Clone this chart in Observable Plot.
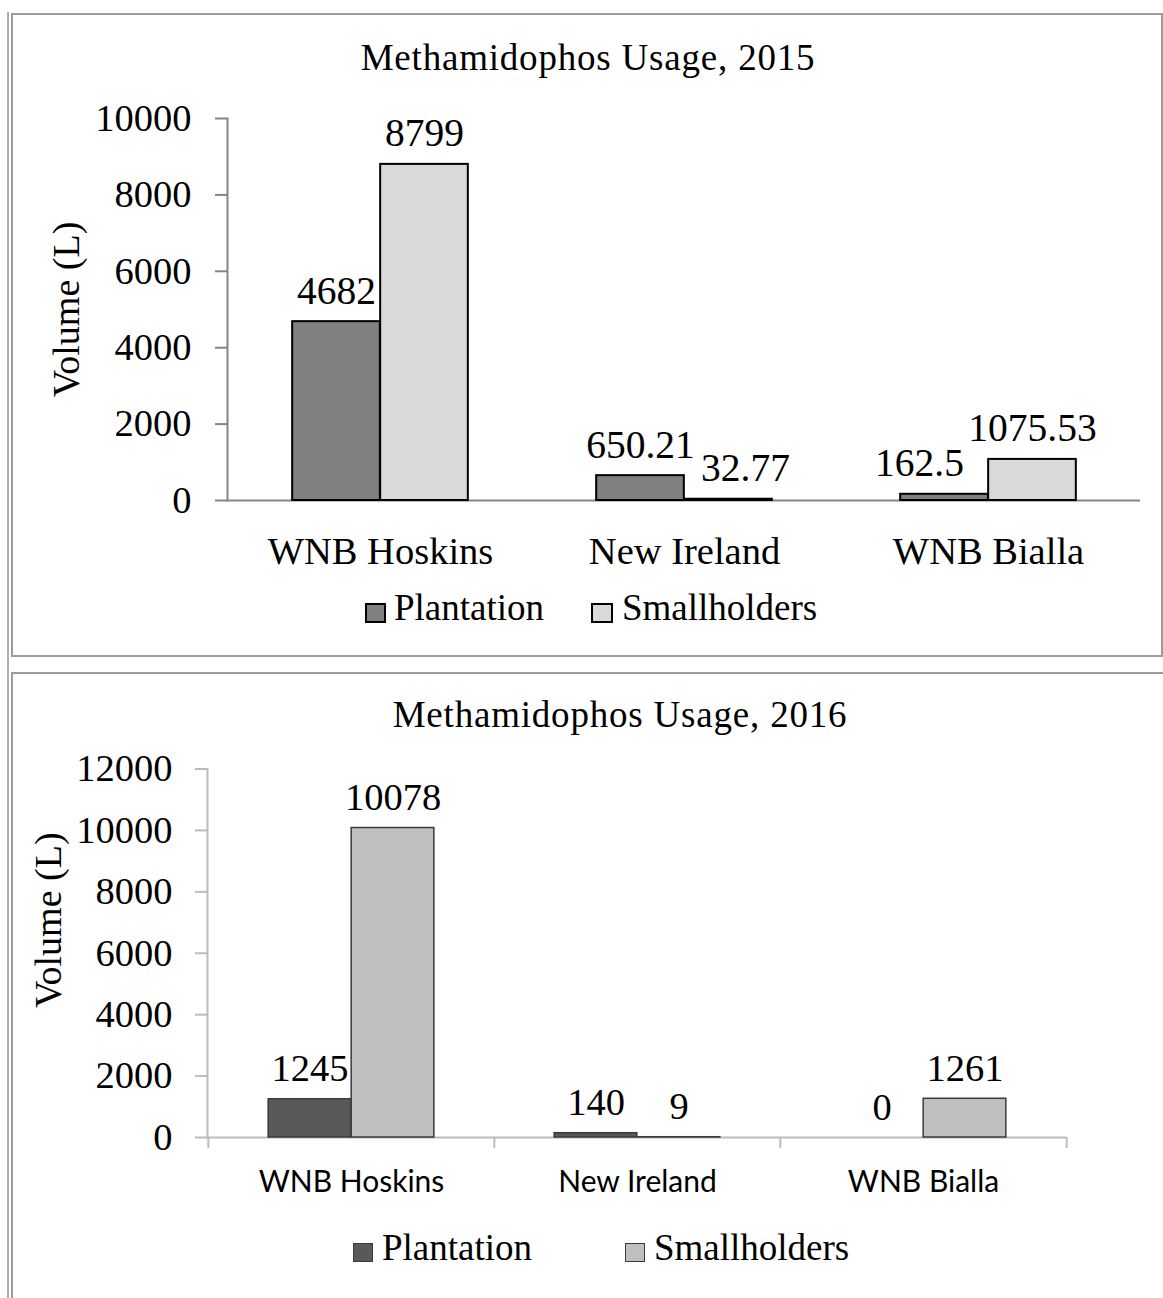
<!DOCTYPE html>
<html><head><meta charset="utf-8">
<script src="https://cdn.jsdelivr.net/npm/d3@7"></script>
<script src="https://cdn.jsdelivr.net/npm/@observablehq/plot@0.6"></script>
<style>
body{margin:0;background:#fff;}
#page{position:relative;width:1163px;height:1298px;overflow:hidden;background:#fff;}
.abs{position:absolute;}
.serif{font-family:"Liberation Serif","Times New Roman",serif;color:#000;white-space:nowrap;}
.panel{position:absolute;box-sizing:border-box;border:2px solid #9c9c9c;}
.sw{position:absolute;box-sizing:border-box;}
svg{position:absolute;left:0;}
</style></head><body><div id="page"></div>
<script>
// ---- data ----
const regions = ["WNB Hoskins", "New Ireland", "WNB Bialla"];
const series = ["Plantation", "Smallholders"];
const plantation2015 = [4682, 650.21, 162.5];
const smallholders2015 = [8799, 32.77, 1075.53];
const plantation2016 = [1245, 140, 0];
const smallholders2016 = [10078, 9, 1261];
const yTicks2015 = [0, 2000, 4000, 6000, 8000, 10000];
const yTicks2016 = [0, 2000, 4000, 6000, 8000, 10000, 12000];
const titles = ["Methamidophos Usage, 2015", "Methamidophos Usage, 2016"];
const yLabel = "Volume (L)";

const SERIF = "Liberation Serif, Times New Roman, serif";
const W = 1163;
const page = document.getElementById("page");

function add(html) { page.insertAdjacentHTML("beforeend", html); }

// panel frames
add(`<div class="abs" style="left:7px;top:12px;width:2px;height:1300px;background:#b0b0b0"></div>`);
add(`<div class="panel" style="left:11px;top:13px;width:1152px;height:644px"></div>`);
add(`<div class="panel" style="left:11px;top:672px;width:1160px;height:700px"></div>`);

function rows(p, s) {
  return regions.flatMap((r, i) => [
    {region: r, series: series[0], value: p[i]},
    {region: r, series: series[1], value: s[i]}
  ]);
}

function chart(cfg) {
  const data = rows(cfg.p, cfg.s);
  const bw = (W - cfg.ml - cfg.mr) / regions.length;
  const half = bw / 2;
  const P = data.filter(d => d.series === series[0]);
  const S = data.filter(d => d.series === series[1]);
  const nudge = cfg.nudge || {};
  const key = d => d.region + "|" + d.series;
  const labelOpts = {x: "region", y: "value", text: d => String(d.value), dy: -18, lineAnchor: "bottom", fontSize: cfg.lfs, fontFamily: SERIF, fill: "#000"};
  const marks = [
    Plot.frame({anchor: "left", stroke: cfg.axis, strokeWidth: 2}),
    Plot.ruleY([0], {stroke: cfg.axis, strokeWidth: 2}),
    Plot.axisY(cfg.ticks, {tickSize: 12, tickPadding: cfg.tp, fontSize: cfg.tfs, fontFamily: SERIF, stroke: cfg.axis, strokeWidth: 2, fill: "#000", label: null, tickFormat: d => String(d)}),
    Plot.barY(P, {x: "region", y: "value", fill: cfg.cP, stroke: cfg.edge, strokeWidth: cfg.ew, insetLeft: half - cfg.barW, insetRight: half}),
    Plot.barY(S, {x: "region", y: "value", fill: cfg.cS, stroke: cfg.edge, strokeWidth: cfg.ew, insetLeft: half, insetRight: half - cfg.barW}),
    Plot.text([yLabel], {text: d => d, frameAnchor: "left", textAnchor: "middle", rotate: -90, dx: cfg.ylx, dy: cfg.yly, fontSize: 38, fontFamily: SERIF, fill: "#000"}),
    Plot.axisX({tickSize: 0, tickPadding: cfg.xtp, fontSize: cfg.xfs, fontFamily: cfg.xff, fill: "#000", label: null})
  ];
  // value labels, one text mark per label so that individual nudges stay in code
  for (const d of data) {
    const side = d.series === series[0] ? -1 : 1;
    const n = nudge[key(d)] || 0;
    marks.push(Plot.text([d], {...labelOpts, dx: side * cfg.barW / 2 + n}));
  }
  if (cfg.boundaryTicks) {
    marks.push(Plot.axisX(regions, {tickSize: 11, dx: -half, tickFormat: () => "", stroke: cfg.axis, strokeWidth: 2, label: null}));
    marks.push(Plot.axisX([regions[regions.length - 1]], {tickSize: 11, dx: half, tickFormat: () => "", stroke: cfg.axis, strokeWidth: 2, label: null}));
  }
  const svg = Plot.plot({
    width: W, height: cfg.h,
    marginLeft: cfg.ml, marginRight: cfg.mr, marginTop: cfg.mt, marginBottom: cfg.mb,
    style: {background: "none", overflow: "visible"},
    x: {domain: regions, padding: 0},
    y: {domain: [0, cfg.ymax]},
    marks
  });
  svg.style.top = cfg.top + "px";
  page.appendChild(svg);
}

chart({p: plantation2015, s: smallholders2015, ticks: yTicks2015, ymax: 10000,
  top: 0, h: 590, ml: 227, mr: 23, mt: 118, mb: 90, tp: 24,
  tfs: 38.5, lfs: 39.5,
  axis: "#858585", cP: "#808080", cS: "#d9d9d9", edge: "#000", ew: 2, barW: 88,
  ylx: -161, yly: 0, xtp: 36, xfs: 38.5, xff: SERIF, boundaryTicks: false,
  nudge: {"New Ireland|Smallholders": 17, "WNB Bialla|Plantation": -25}});

chart({p: plantation2016, s: smallholders2016, ticks: yTicks2016, ymax: 12000,
  top: 673, h: 560, ml: 207, mr: 97, mt: 95.5, mb: 96, tp: 23,
  tfs: 38.5, lfs: 38.5,
  axis: "#bcbcbc", cP: "#595959", cS: "#bfbfbf", edge: "#3a3a3a", ew: 1.5, barW: 83,
  ylx: -159, yly: -33, xtp: 33, xfs: 30, xff: "Lato, Open Sans, sans-serif", boundaryTicks: true});

// titles
function title(text, cx, baseline, fs) {
  add(`<div class="abs serif" style="left:${cx - 400}px;width:800px;text-align:center;top:${baseline - 0.8375 * fs}px;font-size:${fs}px;line-height:${fs}px;letter-spacing:0.8px">${text}</div>`);
}
title(titles[0], 588, 70, 37);
title(titles[1], 620, 727, 37);

// legends
function legend(items, y0, sh, baseline, fs) {
  items.forEach(it => {
    add(`<div class="sw" style="left:${it.sx}px;top:${y0}px;width:${it.sw}px;height:${sh}px;background:${it.color};border:${it.bw}px solid ${it.bc}"></div>`);
    add(`<div class="abs serif" style="left:${it.tx}px;top:${baseline - 0.8375 * fs}px;font-size:${fs}px;line-height:${fs}px">${it.label}</div>`);
  });
}
legend([
  {label: series[0], color: "#808080", bc: "#000", bw: 2, sx: 365, sw: 21, tx: 394},
  {label: series[1], color: "#d9d9d9", bc: "#000", bw: 2, sx: 591, sw: 22, tx: 622}
], 603, 20, 620, 37);
legend([
  {label: series[0], color: "#595959", bc: "#3a3a3a", bw: 1.5, sx: 353, sw: 20, tx: 382},
  {label: series[1], color: "#bfbfbf", bc: "#3a3a3a", bw: 1.5, sx: 625, sw: 20, tx: 654}
], 1243, 19, 1260, 37);
</script>
</body></html>
